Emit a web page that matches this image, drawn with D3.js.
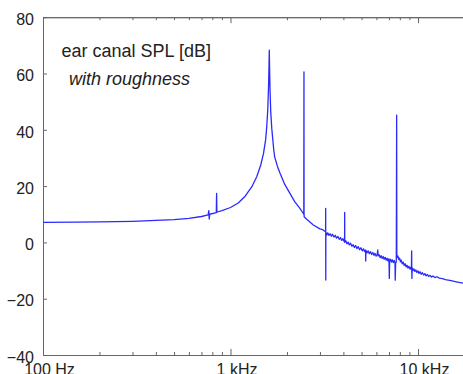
<!DOCTYPE html>
<html>
<head>
<meta charset="utf-8">
<script src="https://cdn.jsdelivr.net/npm/d3@7"></script>
<style>
  body { margin: 0; background: #fff; }
  svg { display: block; font-family: "Liberation Sans", Arial, sans-serif; }
</style>
</head>
<body>
<svg id="chart" width="463" height="374"></svg>
<script>
// frequency (Hz) and ear canal level (dB)
const freq = [100, 150, 200, 300, 400, 500, 600, 700, 760, 766, 770, 775, 840, 843, 846, 850,
  900, 1000, 1100, 1200, 1300, 1380, 1450, 1500, 1540, 1560, 1580, 1595, 1605, 1610, 1615, 1625,
  1640, 1660, 1700, 1720, 1780, 1840, 1950, 2075, 2200, 2345, 2460, 2465, 2468, 2475, 2550, 2765,
  3000, 3100, 3200, 3215, 3218, 3222,
  3226, 3260, 3300, 3350, 3400, 3450, 3500, 3560, 3620, 3680, 3740, 3800, 3860, 3920, 3980, 4030,
  4060, 4064, 4068, 4120, 4180, 4240, 4300, 4370, 4440, 4510, 4580, 4650, 4720, 4800, 4880, 4960,
  5040, 5120, 5200, 5255, 5262, 5275, 5340, 5420, 5500, 5580, 5660, 5740, 5820, 5900, 5980, 6060,
  6100, 6130, 6200, 6280, 6360, 6440, 6520, 6600, 6680, 6760, 6840, 6920, 7000, 7030, 7060, 7140,
  7220, 7300, 7380, 7460, 7540, 7560, 7600, 7660, 7694, 7710, 7760, 7820, 7900, 7980, 8060, 8140,
  8240, 8340, 8440, 8540, 8640, 8740, 8840, 8940, 9040, 9140, 9220, 9250, 9265, 9280, 9310, 9400,
  9500, 9620, 9740, 9860, 9980, 10120, 10260, 10400, 10560, 10720, 10880, 11050, 11220, 11400, 11600, 11800,
  12000, 12300, 12600, 13000, 13500, 14000, 15000, 16000, 17400, 20000];
const spl = [7.1, 7.2, 7.3, 7.5, 7.8, 8.1, 8.5, 9.2, 9.8, 11.3, 8.3, 10.0, 10.6, 17.4, 10.7, 10.8,
  11.3, 12.4, 14.0, 16.5, 19.8, 23.3, 27.5, 31.6, 36.5, 41, 47, 55, 63, 68.3, 63, 54,
  46, 40.5, 33, 30.4, 27, 24.5, 20.5, 17.4, 14.5, 12.1, 10.0, 60.6, 9.6, 9.0, 8.2, 6.2,
  4.8, 4.5, 3.9, 3.9, 12.1, -13.4,
  3.6, 2.6, 3.4, 2.5, 3.1, 2.2, 2.9, 1.9, 2.5, 1.5, 2.1, 1.1, 1.7, 0.7, 1.3, 0.4,
  0.8, 10.7, 0.0, 0.6, -0.5, 0.1, -0.9, -0.3, -1.4, -0.8, -1.8, -1.1, -2.2, -1.5, -2.6, -1.9,
  -3.0, -2.3, -3.3, -2.7, -6.6, -2.8, -3.7, -3.0, -4.0, -3.3, -4.3, -3.6, -4.6, -3.9, -4.9, -4.2,
  -2.7, -4.8, -4.4, -5.4, -4.7, -5.7, -5.0, -6.0, -5.3, -6.3, -5.6, -6.6, -5.8, -12.8, -6.8, -6.0,
  -7.0, -6.2, -7.2, -6.4, -7.3, -13.4, -7.4, -6.8, 45.2, -4.2, -5.4, -4.9, -6.1, -5.6, -6.9, -6.3,
  -7.6, -7.0, -8.2, -7.6, -8.7, -8.1, -9.1, -8.5, -9.4, -8.9, -9.7, -3.0, -9.6, -12.8, -9.0, -10.0,
  -9.4, -10.3, -9.8, -10.7, -10.1, -11.0, -10.4, -11.3, -10.8, -11.6, -11.1, -11.9, -11.4, -12.1, -11.7, -12.3,
  -11.9, -12.5, -12.2, -12.7, -12.9, -13.2, -13.6, -14.0, -14.5, -15.3];

const yTicks = [80, 60, 40, 20, 0, -20, -40];
const xMajor = [100, 1000, 10000];
const xLabels = ['100 Hz', '1 kHz', '10 kHz'];
const xMinor = [200, 300, 400, 500, 600, 700, 800, 900, 2000, 3000, 4000, 5000, 6000, 7000, 8000, 9000, 20000];

const svg = d3.select('#chart');
const padLeft = 43, padTop = 17.2, padBottom = 355;
const decade = 187.5;

const x = d3.scaleLog().domain([100, 20000]).range([padLeft, padLeft + decade * Math.log10(200)]);
const y = d3.scaleLinear().domain([-40, 80]).range([padBottom, padTop]);

const axisColor = '#666';
const textColor = '#222';

function styleAxis(g) {
  g.select('.domain').attr('stroke', axisColor);
  g.selectAll('.tick line').attr('stroke', axisColor);
  g.selectAll('.tick text').attr('fill', textColor).attr('font-size', 16);
}

// bottom axis
svg.append('g')
  .attr('transform', `translate(0,${padBottom})`)
  .call(d3.axisBottom(x).tickValues(xMinor).tickSize(-3).tickFormat(''))
  .call(styleAxis);
svg.append('g')
  .attr('transform', `translate(0,${padBottom})`)
  .call(d3.axisBottom(x).tickValues(xMajor).tickSize(-6).tickSizeOuter(0).tickPadding(9)
    .tickFormat((d, i) => xLabels[i]))
  .call(styleAxis)
  .call(g => g.selectAll('.tick text').attr('dx', 6).attr('dy', '0.71em'));

// top axis
svg.append('g')
  .attr('transform', `translate(0,${padTop})`)
  .call(d3.axisTop(x).tickValues(xMinor).tickSize(-3).tickFormat(''))
  .call(styleAxis);
svg.append('g')
  .attr('transform', `translate(0,${padTop})`)
  .call(d3.axisTop(x).tickValues(xMajor).tickSize(-6).tickSizeOuter(0).tickFormat(''))
  .call(styleAxis);

// left axis
svg.append('g')
  .attr('transform', `translate(${padLeft},0)`)
  .call(d3.axisLeft(y).tickValues(yTicks).tickSize(-4).tickSizeOuter(0).tickPadding(9))
  .call(styleAxis)
  .call(g => g.selectAll('.tick text').attr('dy', '0.45em'));

// curve
const line = d3.line()
  .x((d, i) => x(freq[i]))
  .y(d => y(d));

svg.append('path')
  .datum(spl)
  .attr('d', line)
  .attr('fill', 'none')
  .attr('stroke', '#2a2aff')
  .attr('stroke-width', 1.3)
  .attr('stroke-linejoin', 'round');

// labels
svg.append('text')
  .attr('x', 61.5).attr('y', 56.5)
  .attr('font-size', 18).attr('fill', textColor)
  .text('ear canal SPL [dB]');
svg.append('text')
  .attr('x', 69).attr('y', 85)
  .attr('font-size', 18).attr('font-style', 'italic').attr('fill', textColor)
  .text('with roughness');
</script>
</body>
</html>
